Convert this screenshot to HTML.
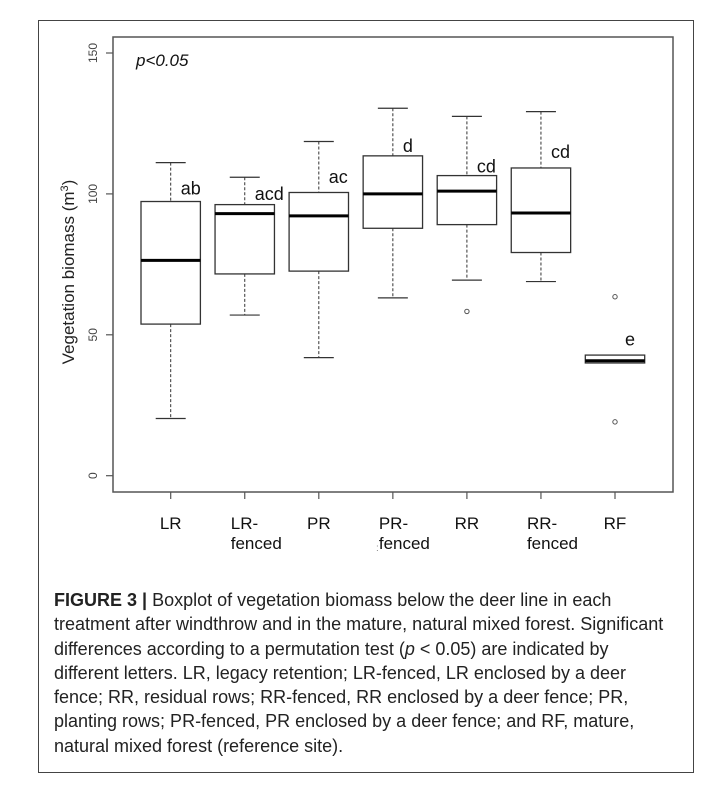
<!DOCTYPE html>
<html><head><meta charset="utf-8"><style>
html,body{margin:0;padding:0;background:#fff;}
body{width:722px;height:806px;position:relative;overflow:hidden;font-family:"Liberation Sans",sans-serif;}
#frame{position:absolute;left:38px;top:20px;width:656px;height:753px;border:1.5px solid #444;box-sizing:border-box;}
#caption{position:absolute;left:54px;top:588px;font-size:18px;line-height:24.3px;color:#222;white-space:nowrap;}
</style></head><body>
<div id="frame"></div>
<svg id="chart" width="722" height="580" style="position:absolute;left:0;top:0" xmlns="http://www.w3.org/2000/svg"></svg>
<div id="caption"><b>FIGURE 3 |</b> Boxplot of vegetation biomass below the deer line in each<br>treatment after windthrow and in the mature, natural mixed forest. Significant<br>differences according to a permutation test (<i>p</i> &lt; 0.05) are indicated by<br>different letters. LR, legacy retention; LR-fenced, LR enclosed by a deer<br>fence; RR, residual rows; RR-fenced, RR enclosed by a deer fence; PR,<br>planting rows; PR-fenced, PR enclosed by a deer fence; and RF, mature,<br>natural mixed forest (reference site).</div>
<script>
const categories = ["LR","LR-fenced","PR","PR-fenced","RR","RR-fenced","RF"];
const whiskerHigh = [111.1,105.9,118.6,130.4,127.5,129.2,42.8];
const q3 = [97.3,96.2,100.5,113.5,106.5,109.2,42.8];
const medians = [76.4,93.0,92.2,100.0,101.0,93.2,40.8];
const q1 = [53.8,71.6,72.6,87.8,89.1,79.2,40.0];
const whiskerLow = [20.3,57.0,41.9,63.1,69.4,68.9,40.0];
const outliers = [[],[],[],[],[58.3],[],[63.5,19.1]];
const letters = ["ab","acd","ac","d","cd","cd","e"];
const letterValues = [99.7,97.8,103.8,114.9,107.6,112.8,46.2];
const yTicks = [0,50,100,150];

const NS="http://www.w3.org/2000/svg";
const svg=document.getElementById('chart');
const L=113,R=673,T=37,B=492;
const y=v=>475.7-v*(475.7-53)/150;
const x=i=>170.7+i*74.05;
const HW=29.7;
function mk(tag,attrs,parent){const e=document.createElementNS(NS,tag);for(const k in attrs)e.setAttribute(k,attrs[k]);(parent||svg).appendChild(e);return e;}

const frame=mk('rect',{x:L,y:T,width:R-L,height:B-T,fill:'none',stroke:'#555','stroke-width':1.5});



yTicks.forEach(v=>{
  const t=mk('line',{x1:L,x2:L-7,y1:y(v),y2:y(v),stroke:'#555','stroke-width':1.2});
  
  
  const tx=mk('text',{x:0,y:0,transform:`translate(97,${y(v)}) rotate(-90)`,'text-anchor':'middle','font-size':12,fill:'#444','font-family':'Liberation Sans, sans-serif'});
  tx.textContent=v;
  
  
});
const yl=mk('text',{x:0,y:0,transform:'translate(74,272) rotate(-90)','text-anchor':'middle','font-size':17,fill:'#222','font-family':'Liberation Sans, sans-serif'});
yl.innerHTML='Vegetation biomass (m<tspan dy="-6" font-size="11">3</tspan><tspan dy="6">)</tspan>';



const pv=mk('text',{x:136,y:66,'font-size':17,'font-style':'italic',fill:'#111','font-family':'Liberation Sans, sans-serif'});
pv.textContent='p<0.05';



categories.forEach((c,i)=>{
  const cx=x(i);
  const g=mk('g',{});
  
  
  mk('line',{x1:cx,x2:cx,y1:y(whiskerHigh[i]),y2:y(q3[i]),stroke:'#333','stroke-width':1,'stroke-dasharray':'3,2'},g);
  mk('line',{x1:cx,x2:cx,y1:y(q1[i]),y2:y(whiskerLow[i]),stroke:'#333','stroke-width':1,'stroke-dasharray':'3,2'},g);
  if(whiskerHigh[i]!==q3[i]) mk('line',{x1:cx-15,x2:cx+15,y1:y(whiskerHigh[i]),y2:y(whiskerHigh[i]),stroke:'#333','stroke-width':1.2},g);
  if(whiskerLow[i]!==q1[i]) mk('line',{x1:cx-15,x2:cx+15,y1:y(whiskerLow[i]),y2:y(whiskerLow[i]),stroke:'#333','stroke-width':1.2},g);
  mk('rect',{x:cx-HW,y:y(q3[i]),width:2*HW,height:y(q1[i])-y(q3[i]),fill:'#fff',stroke:'#333','stroke-width':1.3},g);
  mk('line',{x1:cx-HW,x2:cx+HW,y1:y(medians[i]),y2:y(medians[i]),stroke:'#000','stroke-width':3},g);
  outliers[i].forEach(o=>{
    const p=mk('circle',{cx:cx,cy:y(o),r:2.2,fill:'none',stroke:'#555','stroke-width':1},g);
    
    
  });
  const lt=mk('text',{x:cx+10,y:y(letterValues[i]),'font-size':18,fill:'#111','font-family':'Liberation Sans, sans-serif'});
  lt.textContent=letters[i];
  
  
  const tk=mk('line',{x1:cx,x2:cx,y1:B,y2:B+7,stroke:'#555','stroke-width':1.2});
  
  
  const parts=c.includes('-')?[c.split('-')[0]+'-','fenced']:[c];
  const xl=mk('text',{x:parts.length>1?cx-14:cx,y:529,'text-anchor':parts.length>1?'start':'middle','font-size':17,fill:'#111','font-family':'Liberation Sans, sans-serif'});
  parts.forEach((p,j)=>{const ts=mk('tspan',{x:parts.length>1?cx-14:cx,dy:j?20:0},xl);ts.textContent=p;});
  
  
});
const st=mk('text',{x:376,y:551,'font-size':10,fill:'#888','font-family':'Liberation Sans, sans-serif'});
st.textContent=':';


</script>
</body></html>
